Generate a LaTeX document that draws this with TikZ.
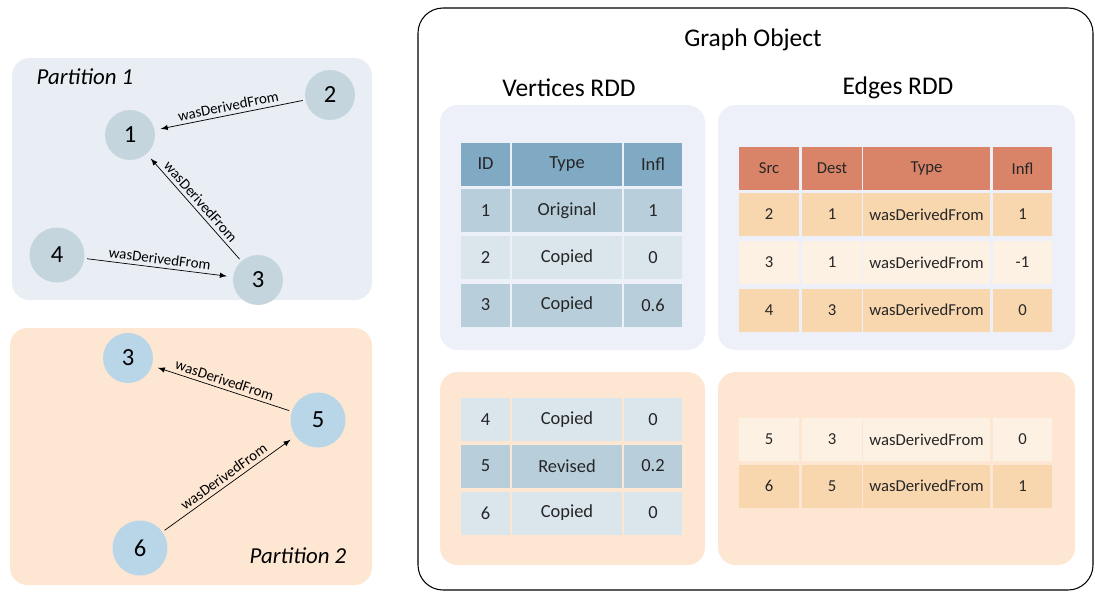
\documentclass[tikz,border=0pt]{standalone}
\usepackage{fontspec}
\setmainfont{Carlito}
\usetikzlibrary{positioning}

\definecolor{pblue}{HTML}{E9EEF4}
\definecolor{ppeach}{HTML}{FDE6D2}
\definecolor{plav}{HTML}{EEF0F9}
\definecolor{nodeA}{HTML}{C5D5DE}
\definecolor{nodeB}{HTML}{B9D5E8}
\definecolor{vhead}{HTML}{80A9C3}
\definecolor{vdark}{HTML}{B8CEDB}
\definecolor{vlight}{HTML}{DAE5EC}
\definecolor{ehead}{HTML}{D98468}
\definecolor{epeach}{HTML}{F9D7AE}
\definecolor{elight}{HTML}{FDF1E3}

\tikzstyle{vertex} = [circle, fill=nodeA, minimum size=1cm, inner sep=0pt, font=\fontsize{14}{16}\selectfont]
\tikzstyle{vertex2} = [vertex, fill=nodeB]
\tikzstyle{cell} = [rectangle, minimum height=0.86cm, inner sep=0pt, text=black!85, font=\fontsize{10.5}{12}\selectfont]
\tikzstyle{ecell} = [cell, font=\fontsize{9.5}{11}\selectfont]
\tikzstyle{panel} = [rounded corners=0.35cm]
\tikzstyle{line} = [draw, -latex, line width=0.4pt, shorten >=0.12cm, shorten <=0.05cm]
\tikzstyle{elabel} = [sloped, above, inner sep=2pt, font=\fontsize{8.5}{10}\selectfont]

\begin{document}
\begin{tikzpicture}[x=0.02cm, y=-0.02cm]
    \useasboundingbox (0,0) rectangle (1095,592);
    % Partitions
    \fill [panel, pblue] (12,58) rectangle (372,300);
    \fill [panel, ppeach] (10,328) rectangle (372,585);
    \node [font=\fontsize{13}{15}\selectfont\itshape] (p1) at (85,77) {Partition 1};
    \node [font=\fontsize{13}{15}\selectfont\itshape] (p2) at (298,556) {Partition 2};
    % Place nodes
    \node [vertex] (n1) at (130,135) {1};
    \node [vertex] (n2) at (330,95) {2};
    \node [vertex, minimum size=1.1cm] (n4) at (57,255) {4};
    \node [vertex] (n3) at (258,280) {3};
    \node [vertex2] (m3) at (128,358) {3};
    \node [vertex2, minimum size=1.1cm] (m5) at (318,420) {5};
    \node [vertex2, minimum size=1.1cm] (m6) at (140,548) {6};
    % Draw edges
    \draw [line] (n2) -- node[elabel]{wasDerivedFrom} (n1);
    \draw [line, latex-, shorten <=0.12cm, shorten >=0.05cm] (n1) -- node[elabel]{wasDerivedFrom} (n3);
    \draw [line] (n4) -- node[elabel]{wasDerivedFrom} (n3);
    \draw [line] (m5) -- node[elabel]{wasDerivedFrom} (m3);
    \draw [line] (m6) -- node[elabel]{wasDerivedFrom} (m5);
    % Graph object
    \draw [rounded corners=0.5cm, line width=0.6pt] (418,8) rectangle (1093,590);
    \node [font=\fontsize{14.5}{17}\selectfont] (gobj) at (753,40) {Graph Object};
    \node [font=\fontsize{14.5}{17}\selectfont] (vrdd) at (569,88) {Vertices RDD};
    \node [font=\fontsize{14.5}{17}\selectfont] (erdd) at (898,88) {Edges RDD};
    \fill [panel, plav] (440,105) rectangle (705,350);
    \fill [panel, plav] (718,105) rectangle (1075,350);
    \fill [panel, ppeach] (440,372) rectangle (705,565);
    \fill [panel, ppeach] (718,372) rectangle (1075,565);
    % Vertices table
    \foreach \y/\n/\a/\t/\f/\c in {164/h/ID/Type/Infl/vhead, 210.5/1/1/Original/1/vdark, 257.5/2/2/Copied/0/vlight,
        305/3/3/Copied/0.6/vdark, 419.5/4/4/Copied/0/vlight, 466/5/5/Revised/0.2/vdark, 513/6/6/Copied/0/vlight} {
        \node [cell, fill=\c, minimum width=0.98cm] (v\n id) at (485.5,\y) {\a};
        \node [cell, fill=\c, minimum width=2.2cm] (v\n type) at (567,\y) {\t};
        \node [cell, fill=\c, minimum width=1.16cm] (v\n infl) at (653,\y) {\f};
    }
    % Edges table
    \foreach \y/\s/\d/\t/\f/\c in {168.5/Src/Dest/Type/Infl/ehead, 214.5/2/1/wasDerivedFrom/1/epeach,
        262.5/3/1/wasDerivedFrom/-1/elight, 310/4/3/wasDerivedFrom/0/epeach,
        439.5/5/3/wasDerivedFrom/0/elight, 486/6/5/wasDerivedFrom/1/epeach} {
        \node [ecell, fill=\c, minimum width=1.2cm] (e\s src) at (769,\y) {\s};
        \node [ecell, fill=\c, minimum width=1.2cm] (e\s dest) at (832,\y) {\d};
        \node [ecell, fill=\c, minimum width=2.54cm] (e\s type) at (926.5,\y) {\t};
        \node [ecell, fill=\c, minimum width=1.18cm] (e\s infl) at (1022.5,\y) {\f};
    }
\end{tikzpicture}
\end{document}
